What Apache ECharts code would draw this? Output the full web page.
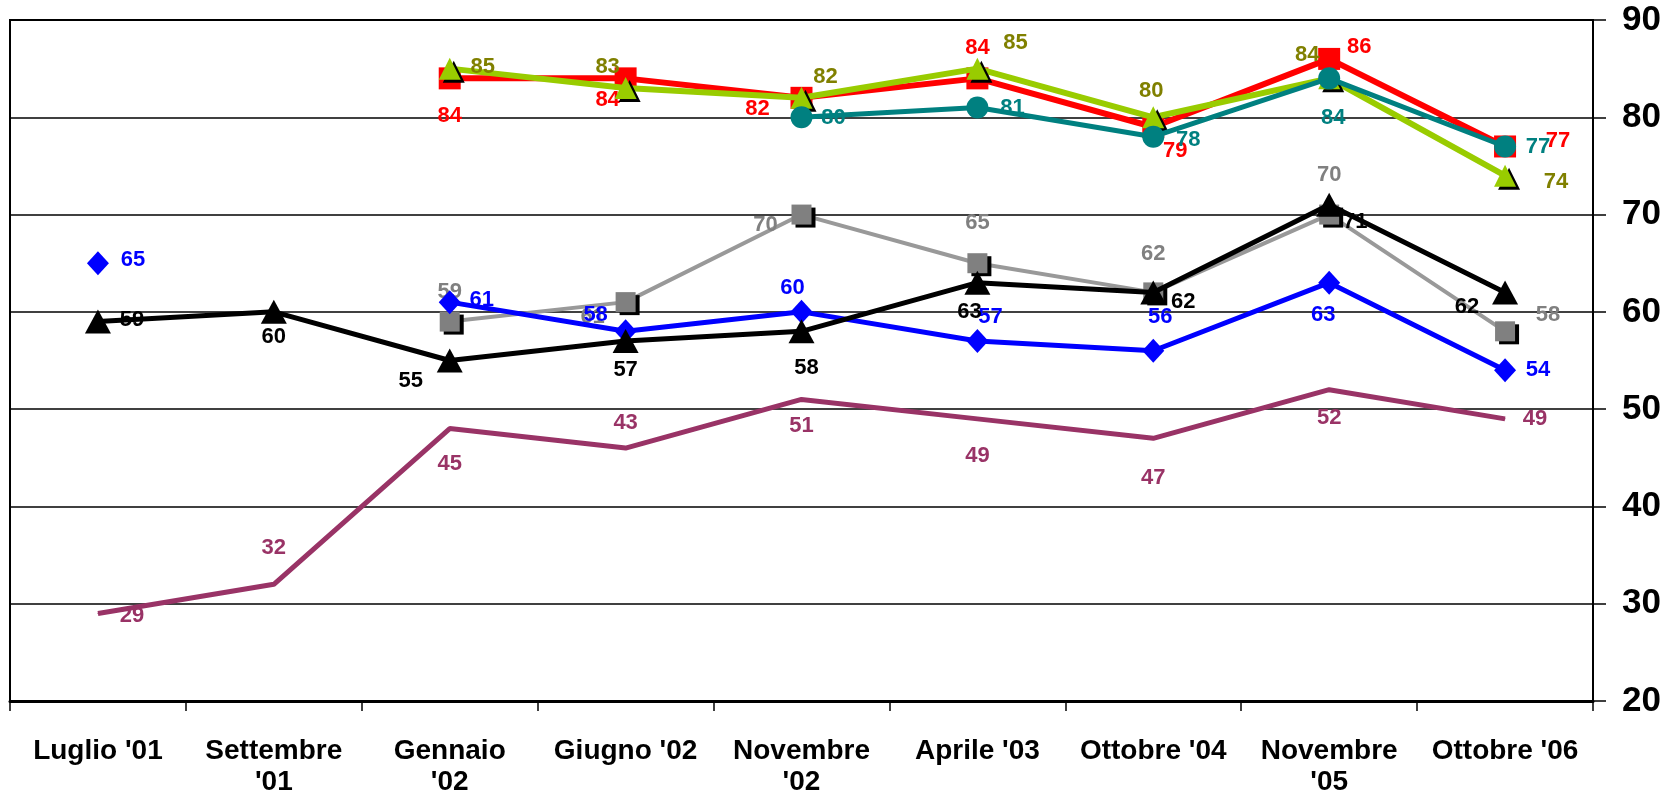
<!DOCTYPE html>
<html>
<head>
<meta charset="utf-8">
<script src="https://cdn.jsdelivr.net/npm/echarts@6/dist/echarts.min.js"></script>
<style>
  html, body { margin: 0; padding: 0; background: #fff; }
  #chart { width: 1667px; height: 798px; }
</style>
</head>
<body>
<div id="chart"></div>
<script>
const categories = ["Luglio '01", "Settembre\n'01", "Gennaio\n'02", "Giugno '02", "Novembre\n'02", "Aprile '03", "Ottobre '04", "Novembre\n'05", "Ottobre '06"];

const rosso = [null, null, 84, 84, 82, 84, 79, 86, 77];
const verde = [null, null, 85, 83, 82, 85, 80, 84, 74];
const petrolio = [null, null, null, null, 80, 81, 78, 84, 77];
const grigio = [null, null, 59, 61, 70, 65, 62, 70, 58];
const nero = [59, 60, 55, 57, 58, 63, 62, 71, 62];
const blu = [65, null, 61, 58, 60, 57, 56, 63, 54];
// the purple line is drawn a bit higher than its labels say at Gennaio/Giugno '02
const viola = [29, 32, 48, 46, 51, 49, 47, 52, 49];
const violaEtichette = [29, 32, 45, 43, 51, 49, 47, 52, 49];

// label offsets from each point, in px
const offRosso = [null, null, [0, 38], [-18, 22], [-44, 11], [0, -30], [22, 24], [30, -12], [53, -6]];
const offVerde = [null, null, [33, -2], [-18, -21], [24, -21], [38, -26], [-2, -26], [-22, -23], [51, 6]];
const offPetrolio = [null, null, null, null, [32, 1], [35, 0], [35, 3], [4, 40], [33, 0]];
const offGrigio = [null, null, [0, -30], [-33, 15], [-36, 10], [0, -40], [0, -38], [0, -40], [43, -16]];
const offNero = [[34, -2], [0, 25], [-39, 20], [0, 29], [5, 37], [-8, 29], [30, 10], [26, 17], [-38, 15]];
const offBlu = [[35, -3], null, [32, -2], [-30, -16], [-9, -24], [13, -24], [7, -34], [-6, 32], [33, 0]];
const offViola = [[34, 2], [0, -36], [0, 35], [0, -25], [0, 27], [0, 37], [0, 40], [0, 28], [30, 0]];

const FONT = "Arial, 'Liberation Sans', sans-serif";

const buildData = (values, offsets) =>
  values.map((v, i) => (v == null ? "-" : { value: v, label: { offset: offsets[i] } }));

const makeSeries = (name, values, offsets, opts) => ({
  name: name,
  type: "line",
  data: buildData(values, offsets),
  connectNulls: false,
  symbol: opts.symbol,
  symbolSize: opts.size,
  z: opts.z,
  lineStyle: { color: opts.line, width: opts.width },
  itemStyle: Object.assign({ color: opts.marker }, opts.shadow ? {
    shadowColor: "#000", shadowBlur: 0, shadowOffsetX: 4, shadowOffsetY: 3,
  } : {}),
  label: {
    show: true,
    position: "inside",
    color: opts.labelColor,
    fontFamily: FONT,
    fontWeight: "bold",
    fontSize: 22,
    formatter: opts.formatter,
  },
  emphasis: { disabled: true },
  animation: false,
});

const chart = echarts.init(document.getElementById("chart"));
chart.setOption({
  animation: false,
  grid: {
    left: 10, right: 74, top: 20, bottom: 97,
    show: true, borderColor: "#000", borderWidth: 2,
  },
  xAxis: {
    type: "category",
    data: categories,
    boundaryGap: true,
    axisLine: { lineStyle: { color: "#000", width: 3 } },
    axisTick: { show: true, length: 10, lineStyle: { color: "#000", width: 1.5 } },
    axisLabel: {
      interval: 0,
      color: "#000",
      fontFamily: FONT,
      fontWeight: "bold",
      fontSize: 28,
      lineHeight: 31,
      margin: 35,
    },
  },
  yAxis: {
    type: "value",
    position: "right",
    min: 20,
    max: 90,
    interval: 10,
    axisLine: { show: true, lineStyle: { color: "#000", width: 2 } },
    axisTick: { show: true, length: 13, lineStyle: { color: "#000", width: 1.5 } },
    splitLine: { lineStyle: { color: "#000", width: 1.5 } },
    axisLabel: {
      color: "#000",
      fontFamily: FONT,
      fontWeight: "bold",
      fontSize: 35,
      margin: 29,
    },
  },
  series: [
    makeSeries("viola", viola, offViola, {
      symbol: "circle", size: 1, line: "#993366", marker: "#993366", width: 5,
      labelColor: "#993366", z: 2, formatter: (p) => String(violaEtichette[p.dataIndex]),
    }),
    makeSeries("grigio", grigio, offGrigio, {
      symbol: "rect", size: 20, line: "#999999", marker: "#808080", width: 4,
      labelColor: "#808080", z: 3, shadow: true,
    }),
    makeSeries("blu", blu, offBlu, {
      symbol: "diamond", size: [22, 24], line: "#0000FF", marker: "#0000FF", width: 5,
      labelColor: "#0000FF", z: 4,
    }),
    makeSeries("nero", nero, offNero, {
      symbol: "triangle", size: [26, 24], line: "#000000", marker: "#000000", width: 5,
      labelColor: "#000000", z: 5,
    }),
    makeSeries("rosso", rosso, offRosso, {
      symbol: "rect", size: 22, line: "#FF0000", marker: "#FF0000", width: 6,
      labelColor: "#FF0000", z: 6,
    }),
    makeSeries("verde", verde, offVerde, {
      symbol: "triangle", size: [22, 22], line: "#99CC00", marker: "#99CC00", width: 6,
      labelColor: "#808000", z: 7, shadow: true,
    }),
    makeSeries("petrolio", petrolio, offPetrolio, {
      symbol: "circle", size: 22, line: "#008080", marker: "#008080", width: 5,
      labelColor: "#008080", z: 8,
    }),
  ],
});
</script>
</body>
</html>
